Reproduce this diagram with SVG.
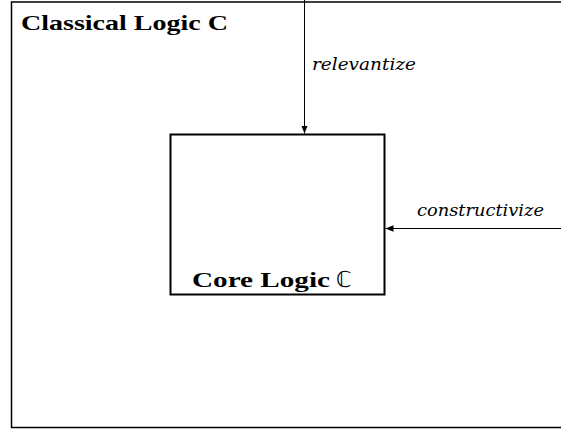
<svg xmlns="http://www.w3.org/2000/svg" width="561" height="429" viewBox="0 0 561 429">
<style>
.t{font-family:"Liberation Serif","DejaVu Serif",serif;fill:#000}
.b{font-weight:bold;font-size:22px}
.i{font-family:"DejaVu Serif","Liberation Serif",serif;font-style:italic;font-size:16px}
.ds{font-family:"DejaVu Sans",sans-serif;font-weight:normal}
.c{stroke:#000;stroke-width:1;fill:none}
</style>
<defs>
<marker id="ah" viewBox="0 0 8 8" refX="8" refY="4" markerWidth="8" markerHeight="8" markerUnits="userSpaceOnUse" orient="auto">
<path d="M0,0.8 L8,4 L0,7.2 Z" fill="#000"/>
</marker>
</defs>
<rect width="561" height="429" fill="#fff"/>
<g id="classical">
<path d="M566,2 H11.5 V427.5 H566" fill="none" stroke="#000" stroke-width="1.5"/>
<text class="t b" x="21" y="30" textLength="207" lengthAdjust="spacingAndGlyphs">Classical Logic C</text>
</g>
<g id="core">
<rect x="170.5" y="134.5" width="214" height="160" fill="none" stroke="#000" stroke-width="2"/>
<text class="t b" x="192" y="287"><tspan textLength="138" lengthAdjust="spacingAndGlyphs">Core Logic</tspan><tspan class="ds" x="336">ℂ</tspan></text>
</g>
<g id="connectors">
<line class="c" x1="304.5" y1="0" x2="304.5" y2="133.5" marker-end="url(#ah)"/>
<text class="t i" x="312" y="70" textLength="104" lengthAdjust="spacingAndGlyphs">relevantize</text>
<line class="c" x1="561" y1="228.5" x2="385.5" y2="228.5" marker-end="url(#ah)"/>
<text class="t i" x="417" y="216" textLength="127" lengthAdjust="spacingAndGlyphs">constructivize</text>
</g>
</svg>
